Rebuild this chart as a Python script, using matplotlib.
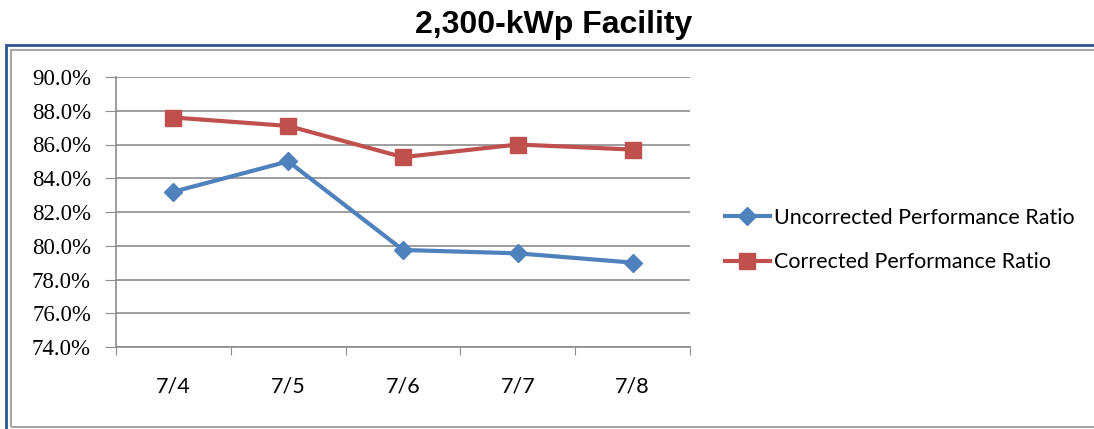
import matplotlib.pyplot as plt
from matplotlib.patches import Rectangle

dates = ["7/4", "7/5", "7/6", "7/7", "7/8"]
uncorrected = [83.2, 85.0, 79.75, 79.55, 79.0]
corrected = [87.6, 87.1, 85.25, 86.0, 85.7]
y_ticks = [74, 76, 78, 80, 82, 84, 86, 88, 90]

BLUE = "#4F81BD"
RED = "#C0504D"
GRID = "#8C8C8C"

plt.rcParams["font.family"] = ["Lato", "DejaVu Sans"]

W, H = 1094, 429
fig = plt.figure(figsize=(W / 100, H / 100), dpi=100)


def fx(px):
    return px / W


def fy(py):
    return 1 - py / H


# chart frames: dark blue outer border, thin grey inner border
fig.patches.append(Rectangle((fx(6), fy(440)), fx(1100), fy(45) - fy(440),
                             transform=fig.transFigure, fill=False,
                             edgecolor="#2E5597", linewidth=2.0))
fig.patches.append(Rectangle((fx(11), fy(427)), fx(1100), fy(50) - fy(427),
                             transform=fig.transFigure, fill=False,
                             edgecolor="#A6A6A6", linewidth=1.5))

fig.text(fx(554), fy(25), "2,300-kWp Facility", ha="center", va="center",
         fontsize=23, fontweight="bold", family=["Liberation Sans", "DejaVu Sans"])

ax = fig.add_axes([fx(116), fy(347), fx(690) - fx(116), fy(77) - fy(347)])
x = range(len(dates))
ax.plot(x, uncorrected, color=BLUE, linewidth=3, marker="D", markersize=9,
        label="Uncorrected Performance Ratio")
ax.plot(x, corrected, color=RED, linewidth=3, marker="s", markersize=11,
        label="Corrected Performance Ratio")

ax.set_xlim(-0.5, len(dates) - 0.5)
ax.set_ylim(74, 90)
ax.set_yticks(y_ticks)
ax.set_yticklabels([f"{v:.1f}%" for v in y_ticks],
                   family=["Liberation Serif", "DejaVu Serif"], fontsize=16.5)
ax.grid(axis="y", color=GRID, linewidth=1.2)
ax.set_axisbelow(True)

# category ticks sit between dates, labels centred on them
ax.set_xticks([i - 0.5 for i in range(len(dates) + 1)])
ax.set_xticklabels([])
ax.set_xticks(list(x), minor=True)
ax.set_xticklabels(dates, minor=True, fontsize=15.5)
ax.tick_params(axis="x", which="major", length=6, color=GRID, direction="out")
ax.tick_params(axis="x", which="minor", length=0, pad=21)
ax.tick_params(axis="y", length=8, color=GRID, pad=10)

for side in ("top", "right"):
    ax.spines[side].set_visible(False)
for side in ("left", "bottom"):
    ax.spines[side].set_color(GRID)
    ax.spines[side].set_linewidth(1.2)

fig.legend(loc="center left", bbox_to_anchor=(fx(714), fy(240)),
           frameon=False, handlelength=2.1, handletextpad=0.2,
           labelspacing=1.15, borderpad=0, fontsize=15.5)

fig.savefig("out.png", dpi=100)
